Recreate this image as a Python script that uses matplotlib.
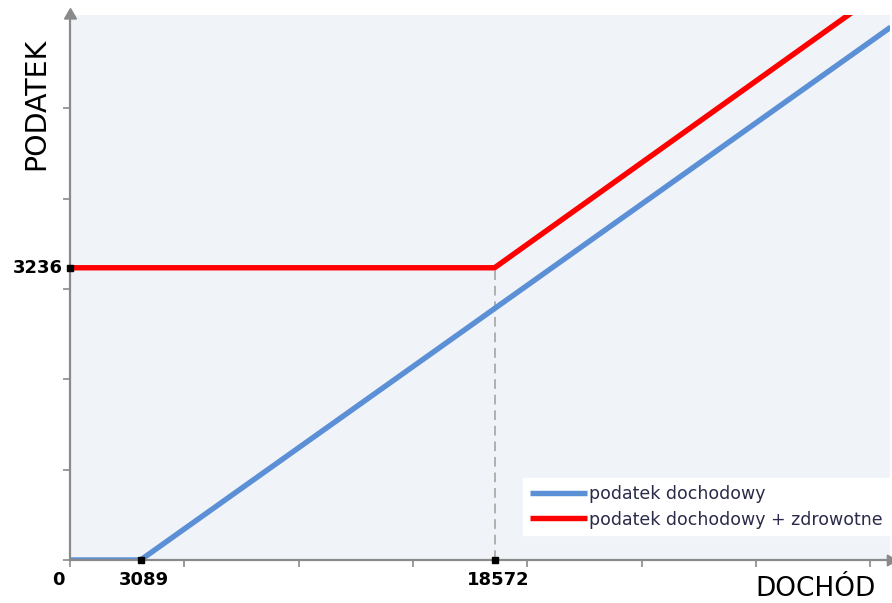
import matplotlib
matplotlib.use('Agg')
import matplotlib.pyplot as plt

# data
blue_x = [0, 3089, 35900]
blue_y = [0, 0, 5900]
red_x = [0, 18572, 35900]
red_y = [3236, 3236, 6370]
marked_x = [3089, 18572]
marked_y = [3236]
x_ticks = [0, 5000, 10000, 15000, 20000, 25000, 30000, 35000]
y_ticks = [0, 1000, 2000, 3000, 4000, 5000]

BLUE = "#5b8fd6"
RED = "#ff0000"
AXIS_GRAY = "#8a8a8a"
BG = "#f0f3f8"

fig = plt.figure(figsize=(8.92, 6.03), dpi=100, facecolor="white")
ax = fig.add_axes([70 / 892, 43 / 603, 820 / 892, 545 / 603])
ax.set_facecolor(BG)
ax.set_xlim(0, 35870)
ax.set_ylim(0, 6035)

ax.plot(blue_x, blue_y, color=BLUE, lw=3.9, solid_capstyle='butt',
        label="podatek dochodowy", zorder=3)
ax.plot(red_x, red_y, color=RED, lw=3.9, solid_capstyle='butt',
        label="podatek dochodowy + zdrowotne", zorder=3)

# dashed guide down from the kink
ax.plot([red_x[1], red_x[1]], [0, red_y[1]], color="#b0b0b0", lw=1.4,
        ls=(0, (5, 3)), zorder=2)

for s in ["top", "right"]:
    ax.spines[s].set_visible(False)
for s in ["left", "bottom"]:
    ax.spines[s].set_color(AXIS_GRAY)
    ax.spines[s].set_linewidth(1.6)
    ax.spines[s].set_zorder(4)

ax.set_xticks(x_ticks)
ax.set_yticks(y_ticks)
ax.tick_params(axis='both', length=5, width=1.2, color=AXIS_GRAY,
               labelbottom=False, labelleft=False)

# arrow heads on axes
ax.plot([0], [6035], marker=(3, 0, 0), ms=10, color=AXIS_GRAY, clip_on=False, zorder=5)
ax.plot([35870], [0], marker=(3, 0, -90), ms=9, color=AXIS_GRAY, clip_on=False, zorder=5)

# black markers on the axes
ax.plot(marked_x, [0] * len(marked_x), 's', ms=4.5, color="black", clip_on=False, zorder=6)
ax.plot([0] * len(marked_y), marked_y, 's', ms=4.5, color="black", clip_on=False, zorder=6)

lab_font = dict(family="DejaVu Sans", fontsize=13, fontweight='bold', color="black")
ax.text(-230, -220, "0", ha='right', va='center', **lab_font)
for xv in marked_x:
    ax.text(xv + 150, -220, f"{xv}", ha='center', va='center', **lab_font)
for yv in marked_y:
    ax.text(-300, yv, f"{yv}", ha='right', va='center', **lab_font)

fig.text(36 / 892, 1 - 104 / 603, "PODATEK", rotation=90, ha='center', va='center',
         family="DejaVu Sans", fontsize=20.5, color="black")
fig.text(816 / 892, 1 - 589 / 603, "DOCHÓD", ha='center', va='center',
         family="DejaVu Sans", fontsize=19, color="black")

leg = ax.legend(loc='lower right', bbox_to_anchor=(1.0, 0.045), frameon=True,
                fancybox=False, framealpha=1, edgecolor="white",
                prop=dict(family="DejaVu Sans", size=12.5), handlelength=3.3,
                handletextpad=0.15, borderpad=0.4, labelspacing=0.45,
                borderaxespad=0)
for t in leg.get_texts():
    t.set_color("#2a2a4a")

fig.savefig("out.png", dpi=100, facecolor="white")
